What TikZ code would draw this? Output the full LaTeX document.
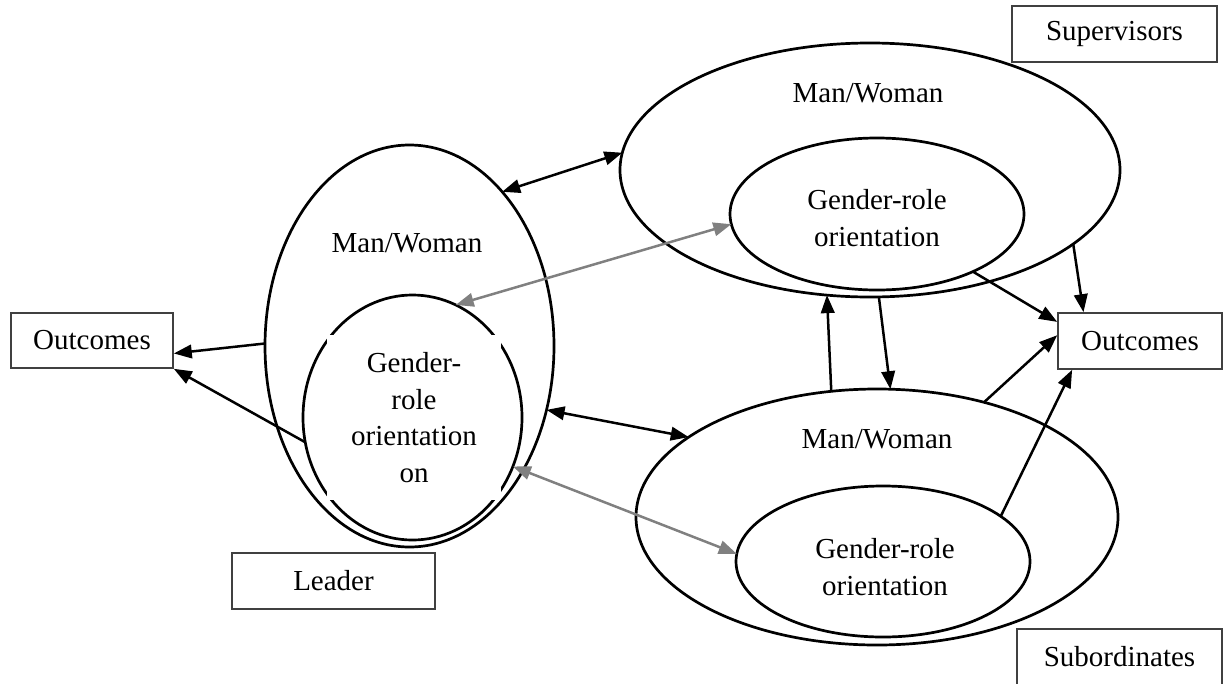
\documentclass[tikz,border=0pt]{standalone}
\usepackage{fontspec}
\setmainfont{Liberation Serif}
\usetikzlibrary{arrows.meta,shapes.geometric}
\begin{document}
\begin{tikzpicture}[x=1pt,y=-1pt,
  every node/.style={font=\fontsize{29}{36.5}\selectfont},
  ell/.style={draw, ellipse, line width=2.7pt, inner sep=0pt, outer sep=0pt},
  lbl/.style={inner sep=0pt, align=center},
  box/.style={draw=black!75, line width=1.6pt, rectangle, inner sep=0pt},
  con/.style={line width=2.5pt, >={Triangle[length=18pt,width=13.5pt]}},
  gcon/.style={con, draw=gray, color=gray}
]
\useasboundingbox (0,0) rectangle (1226,683);

% Leader
\node[ell, minimum width=219pt, minimum height=245pt] (LI) at (412.5,417.5) {};
\node[lbl, fill=white, minimum width=174pt, minimum height=165pt] (LT) at (414,417.5) {Gender-\\role\\orientation\\on};
\node[ell, minimum width=289pt, minimum height=402pt] (LO) at (409.5,346) {};
\node[lbl] (LM) at (407,243) {Man/Woman};

% Supervisors
\node[ell, minimum width=500pt, minimum height=254pt] (SO) at (870,170) {};
\node[ell, minimum width=294pt, minimum height=152pt] (SI) at (877,214) {};
\node[lbl] (SM) at (868,93) {Man/Woman};
\node[lbl] (ST) at (877,218) {Gender-role\\orientation};

% Subordinates
\node[ell, minimum width=482pt, minimum height=256pt] (BO) at (877,517) {};
\node[ell, minimum width=294pt, minimum height=151pt] (BI) at (883,561.5) {};
\node[lbl] (BM) at (877,439) {Man/Woman};
\node[lbl] (BT) at (885,567) {Gender-role\\orientation};

% Boxes
\node[box, minimum width=205pt, minimum height=56pt] (sup) at (1114.5,34) {Supervisors};
\node[box, minimum width=205pt, minimum height=56pt] (sub) at (1119.5,657) {Subordinates};
\node[box, minimum width=203pt, minimum height=56pt] (ldr) at (333.5,581) {Leader};
\node[box, minimum width=162pt, minimum height=55pt] (outL) at (92,340.5) {Outcomes};
\node[box, minimum width=164pt, minimum height=56pt] (outR) at (1140,341) {Outcomes};

% Connectors
\draw[con,<->] (LO.59) -- (SO.176);
\draw[gcon,<->] (LI.69) -- (SI.184);
\draw[con,<->] (LO.-25) -- (BO.157);
\draw[gcon,<->] (LI.-26) -- (BI.177);
\draw[con,->] (LO.179) -- (outL.-9);
\draw[con,->] (LI.193) -- (outL.south east);
\draw[con,->] (SO.-86) -- (BO.84);
\draw[con,->] (BO.110) -- (SO.-109);
\draw[con,->] (SI.-31) -- (outR.167);
\draw[con,->] (SO.-20) -- (outR.153);
\draw[con,->] (BO.47) -- (outR.176);
\draw[con,->] (BI.21) -- (outR.203);
\end{tikzpicture}
\end{document}
